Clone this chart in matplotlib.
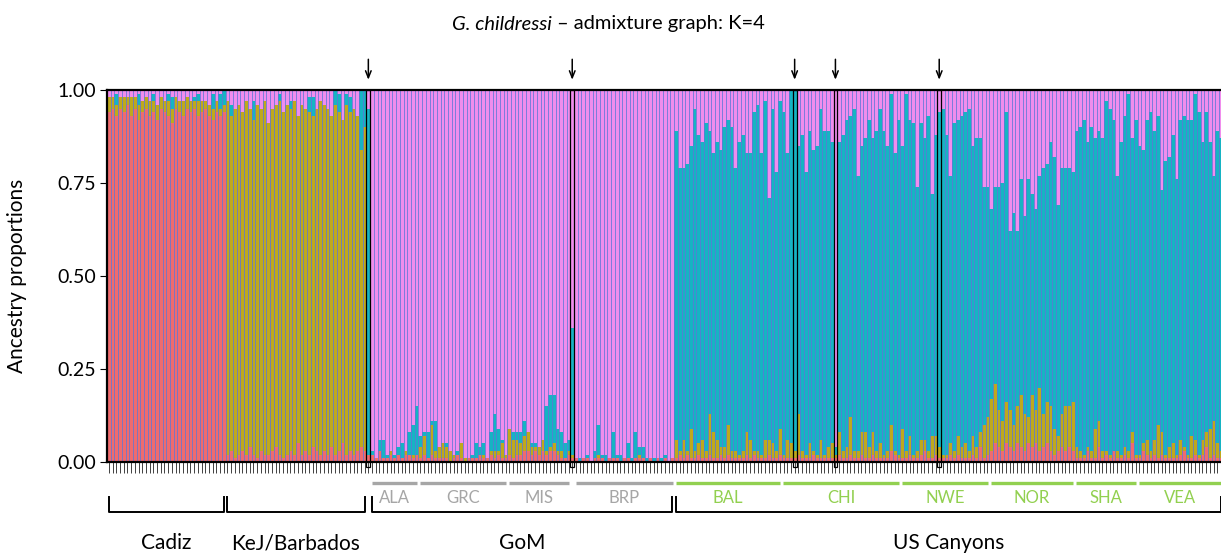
import numpy as np
import matplotlib.pyplot as plt
from matplotlib.patches import Rectangle
from matplotlib.transforms import blended_transform_factory

# ancestry proportions per individual, cluster order: red, olive, teal (pink fills to 1.00)
cadiz_red = [0.94, 0.95, 0.93, 0.95, 0.94, 0.96, 0.93, 0.95, 0.92, 0.94, 0.95, 0.93, 0.94, 0.92, 0.95, 0.94,
             0.93, 0.91, 0.95, 0.94, 0.93, 0.95, 0.94, 0.95, 0.93, 0.94, 0.95, 0.93, 0.92, 0.94, 0.93, 0.94]
cadiz_olive = [0.04, 0.03, 0.03, 0.03, 0.04, 0.02, 0.05, 0.03, 0.04, 0.03, 0.03, 0.04, 0.03, 0.04, 0.03, 0.03,
               0.04, 0.04, 0.03, 0.03, 0.04, 0.03, 0.03, 0.02, 0.04, 0.03, 0.02, 0.03, 0.03, 0.03, 0.02, 0.02]
cadiz_teal = [0.00, 0.00, 0.03, 0.00, 0.00, 0.00, 0.00, 0.00, 0.03, 0.00, 0.00, 0.00, 0.02, 0.00, 0.00, 0.00,
              0.02, 0.03, 0.00, 0.00, 0.00, 0.00, 0.00, 0.01, 0.02, 0.00, 0.00, 0.00, 0.04, 0.00, 0.04, 0.04]

kej_red = [0.02, 0.03, 0.01, 0.02, 0.03, 0.02, 0.04, 0.02, 0.01, 0.03, 0.02, 0.02, 0.03, 0.04, 0.02, 0.01,
           0.02, 0.03, 0.02, 0.05, 0.02, 0.03, 0.02, 0.04, 0.03, 0.02, 0.03, 0.02, 0.04, 0.02, 0.03, 0.05,
           0.02, 0.03, 0.02, 0.03, 0.04, 0.03, 0.02]
kej_olive = [0.95, 0.90, 0.94, 0.94, 0.91, 0.95, 0.91, 0.90, 0.95, 0.92, 0.95, 0.89, 0.92, 0.92, 0.95, 0.93,
             0.94, 0.92, 0.95, 0.88, 0.94, 0.92, 0.92, 0.89, 0.92, 0.95, 0.93, 0.93, 0.89, 0.94, 0.91, 0.87,
             0.94, 0.91, 0.93, 0.90, 0.80, 0.87, 0.00]
kej_teal = [0.00, 0.03, 0.00, 0.00, 0.00, 0.00, 0.00, 0.05, 0.00, 0.00, 0.00, 0.00, 0.00, 0.00, 0.02, 0.00,
            0.00, 0.02, 0.00, 0.00, 0.00, 0.00, 0.04, 0.05, 0.00, 0.00, 0.00, 0.00, 0.00, 0.04, 0.05, 0.00,
            0.03, 0.04, 0.00, 0.00, 0.16, 0.10, 0.93]

gom_red = [0.02, 0.01, 0.03, 0.01, 0.01, 0.02, 0.01, 0.02, 0.01, 0.02, 0.02, 0.01, 0.02, 0.01, 0.02, 0.01,
           0.02, 0.01, 0.01, 0.01, 0.01, 0.00, 0.01, 0.02, 0.01, 0.00, 0.01, 0.01, 0.01, 0.02, 0.01, 0.01,
           0.02, 0.01, 0.02, 0.01, 0.01, 0.02, 0.01, 0.02, 0.02, 0.03, 0.03, 0.02, 0.03, 0.02, 0.03, 0.02,
           0.03, 0.03, 0.02, 0.01, 0.01, 0.02, 0.01, 0.01, 0.00, 0.01, 0.01, 0.00, 0.01, 0.01, 0.01, 0.00,
           0.01, 0.01, 0.01, 0.00, 0.01, 0.01, 0.00, 0.01, 0.01, 0.01, 0.00, 0.01, 0.00, 0.01, 0.00, 0.01,
           0.00, 0.01]
gom_olive = [0.00, 0.00, 0.00, 0.00, 0.00, 0.01, 0.00, 0.00, 0.00, 0.01, 0.00, 0.01, 0.00, 0.03, 0.05, 0.00,
             0.08, 0.02, 0.03, 0.04, 0.03, 0.03, 0.01, 0.00, 0.04, 0.01, 0.00, 0.00, 0.00, 0.00, 0.01, 0.00,
             0.01, 0.02, 0.01, 0.04, 0.01, 0.07, 0.05, 0.04, 0.03, 0.04, 0.05, 0.02, 0.01, 0.02, 0.03, 0.01,
             0.01, 0.02, 0.01, 0.02, 0.00, 0.01, 0.01, 0.00, 0.00, 0.00, 0.00, 0.00, 0.00, 0.01, 0.00, 0.00,
             0.00, 0.00, 0.00, 0.00, 0.00, 0.00, 0.00, 0.00, 0.01, 0.00, 0.00, 0.00, 0.00, 0.00, 0.00, 0.00,
             0.00, 0.00]
gom_teal = [0.01, 0.00, 0.03, 0.05, 0.01, 0.00, 0.01, 0.02, 0.04, 0.00, 0.06, 0.08, 0.13, 0.03, 0.01, 0.07,
            0.01, 0.08, 0.00, 0.00, 0.01, 0.00, 0.00, 0.01, 0.00, 0.00, 0.00, 0.01, 0.04, 0.02, 0.03, 0.00,
            0.05, 0.10, 0.06, 0.01, 0.00, 0.00, 0.02, 0.02, 0.03, 0.04, 0.00, 0.01, 0.01, 0.00, 0.00, 0.12,
            0.14, 0.13, 0.06, 0.05, 0.04, 0.03, 0.34, 0.00, 0.01, 0.00, 0.01, 0.00, 0.02, 0.08, 0.01, 0.02,
            0.00, 0.07, 0.01, 0.02, 0.00, 0.04, 0.01, 0.07, 0.02, 0.03, 0.01, 0.00, 0.01, 0.00, 0.01, 0.01,
            0.00, 0.00]

us_red = [0.01, 0.02, 0.01, 0.02, 0.01, 0.01, 0.02, 0.01,
          0.01, 0.02, 0.01, 0.01, 0.02, 0.01, 0.02, 0.01, 0.01, 0.01,
          0.01, 0.02, 0.01, 0.02, 0.01, 0.01, 0.01, 0.02, 0.01, 0.01,
          0.02, 0.01, 0.01, 0.01, 0.01, 0.02, 0.01, 0.01, 0.01, 0.02,
          0.01, 0.01, 0.01, 0.01, 0.01, 0.01, 0.02, 0.01, 0.01, 0.02,
          0.01, 0.01, 0.02, 0.01, 0.01, 0.02, 0.01, 0.01, 0.01, 0.01,
          0.03, 0.02, 0.01, 0.01, 0.01, 0.02, 0.01, 0.01, 0.02, 0.03,
          0.01, 0.01, 0.02, 0.01, 0.01, 0.01, 0.02, 0.01, 0.02, 0.01,
          0.01, 0.01, 0.02, 0.01, 0.04, 0.01, 0.02, 0.03, 0.05, 0.04,
          0.03, 0.05, 0.04, 0.03, 0.05, 0.04, 0.03, 0.05, 0.04, 0.05,
          0.03, 0.04, 0.05, 0.03, 0.02, 0.03, 0.04, 0.03, 0.04, 0.03,
          0.01, 0.01, 0.01, 0.03, 0.01, 0.01, 0.04, 0.01, 0.02, 0.01,
          0.03, 0.01, 0.01, 0.02, 0.01, 0.05, 0.01, 0.01, 0.03, 0.02,
          0.01, 0.02, 0.01, 0.02, 0.01, 0.01, 0.01, 0.01, 0.02, 0.03,
          0.01, 0.01, 0.02, 0.01, 0.02, 0.04, 0.01, 0.02, 0.01, 0.01]
us_olive = [0.05, 0.01, 0.05, 0.01, 0.08, 0.02, 0.03, 0.05,
            0.02, 0.11, 0.07, 0.05, 0.02, 0.03, 0.08, 0.02, 0.02, 0.01,
            0.02, 0.06, 0.05, 0.01, 0.02, 0.01, 0.05, 0.04, 0.04, 0.02,
            0.07, 0.01, 0.05, 0.04, 0.02, 0.11, 0.02, 0.01, 0.04, 0.01,
            0.01, 0.05, 0.01, 0.03, 0.04, 0.01, 0.06, 0.02, 0.03, 0.10,
            0.02, 0.02, 0.06, 0.07, 0.03, 0.06, 0.02, 0.04, 0.01, 0.02,
            0.07, 0.01, 0.01, 0.08, 0.02, 0.05, 0.01, 0.02, 0.04, 0.03,
            0.02, 0.06, 0.05, 0.03, 0.01, 0.01, 0.03, 0.02, 0.05, 0.03,
            0.04, 0.02, 0.05, 0.03, 0.04, 0.09, 0.10, 0.14, 0.16, 0.10,
            0.08, 0.11, 0.10, 0.07, 0.10, 0.14, 0.10, 0.07, 0.14, 0.09,
            0.17, 0.09, 0.11, 0.12, 0.07, 0.04, 0.09, 0.12, 0.11, 0.13,
            0.03, 0.02, 0.01, 0.01, 0.02, 0.08, 0.07, 0.02, 0.01, 0.01,
            0.00, 0.02, 0.01, 0.02, 0.02, 0.03, 0.01, 0.01, 0.02, 0.04,
            0.02, 0.04, 0.09, 0.06, 0.01, 0.03, 0.04, 0.01, 0.04, 0.01,
            0.01, 0.06, 0.04, 0.01, 0.04, 0.04, 0.08, 0.09, 0.04, 0.02]
us_teal = [0.83, 0.76, 0.73, 0.77, 0.76, 0.92, 0.83, 0.80,
           0.88, 0.76, 0.75, 0.80, 0.80, 0.86, 0.82, 0.87, 0.76, 0.84,
           0.85, 0.75, 0.77, 0.91, 0.93, 0.81, 0.91, 0.65, 0.90, 0.75,
           0.88, 0.92, 0.77, 0.95, 0.97, 0.72, 0.85, 0.76, 0.84, 0.81,
           0.83, 0.89, 0.87, 0.85, 0.81, 0.02, 0.78, 0.85, 0.88, 0.81,
           0.92, 0.74, 0.77, 0.79, 0.88, 0.79, 0.86, 0.90, 0.87, 0.82,
           0.89, 0.80, 0.90, 0.76, 0.96, 0.85, 0.89, 0.71, 0.85, 0.81,
           0.90, 0.65, 0.81, 0.90, 0.93, 0.86, 0.72, 0.88, 0.85, 0.89,
           0.89, 0.92, 0.78, 0.83, 0.79, 0.64, 0.62, 0.51, 0.53, 0.60,
           0.64, 0.78, 0.48, 0.57, 0.47, 0.58, 0.53, 0.64, 0.54, 0.54,
           0.57, 0.66, 0.64, 0.71, 0.73, 0.62, 0.66, 0.64, 0.64, 0.62,
           0.85, 0.87, 0.90, 0.82, 0.87, 0.78, 0.78, 0.84, 0.94, 0.93,
           0.89, 0.74, 0.84, 0.89, 0.96, 0.79, 0.90, 0.83, 0.79, 0.86,
           0.91, 0.83, 0.83, 0.65, 0.79, 0.78, 0.83, 0.74, 0.86, 0.89,
           0.90, 0.85, 0.93, 0.92, 0.80, 0.86, 0.77, 0.66, 0.84, 0.84]

cluster_colors = ["#ef6b6e", "#bfa91c", "#16b4c3", "#f08ded"]
separator_color = "#5d77d6"

# regions, sampling sites and flagged individuals (sample index)
regions = ["Cadiz", "KeJ/Barbados", "GoM", "US Canyons"]
region_spans = [(0, 32), (32, 70), (71, 153), (153, 301)]
sites = ["ALA", "GRC", "MIS", "BRP", "BAL", "CHI", "NWE", "NOR", "SHA", "VEA"]
site_spans = [(71, 84), (84, 108), (108, 125), (126, 153), (153, 182),
              (182, 214), (214, 238), (238, 261), (261, 278), (278, 301)]
site_colors = ["#a6a6a6"] * 4 + ["#92d050"] * 6
flagged = [70, 125, 185, 196, 224]

red = np.array(cadiz_red + kej_red + gom_red + us_red)
olive = np.array(cadiz_olive + kej_olive + gom_olive + us_olive)
teal = np.array(cadiz_teal + kej_teal + gom_teal + us_teal)
pink = 1.0 - red - olive - teal
n = len(red)
x = np.arange(n)

plt.rcParams["font.family"] = ["Lato", "DejaVu Sans"]

fig = plt.figure(figsize=(12.21, 5.58), dpi=100)
ax = fig.add_axes([107 / 1221, 96 / 558, n * 3.707 / 1221, 372 / 558])

bottom = np.zeros(n)
for values, color in zip([red, olive, teal, pink], cluster_colors):
    ax.bar(x, values, bottom=bottom, width=1.0, align="edge", color=color, linewidth=0)
    bottom += values
ax.vlines(np.arange(1, n), 0, 1, color=separator_color, linewidth=0.55)

ax.set_xlim(0, n)
ax.set_ylim(0, 1)
for side in ["top", "left", "bottom"]:
    ax.spines[side].set_linewidth(1.6)
ax.spines["right"].set_visible(False)

ax.set_xticks(x + 0.5)
ax.set_xticklabels([])
ax.tick_params(axis="x", length=8, width=0.6, color="#222222", pad=1)
ax.set_yticks([0, 0.25, 0.5, 0.75, 1.0])
ax.set_yticklabels(["0.00", "0.25", "0.50", "0.75", "1.00"], fontsize=14)
ax.tick_params(axis="y", length=5, width=0.8, pad=3)
ax.set_ylabel("Ancestry proportions", fontsize=15)
ax.yaxis.set_label_coords(-80 / (n * 3.707), 0.5)

trans = blended_transform_factory(ax.transData, ax.transAxes)

# flagged individuals: outlined bars with arrows above
for i in flagged:
    ax.add_patch(Rectangle((i, -0.013), 1, 1.013, transform=trans, fill=False,
                           edgecolor="black", linewidth=0.9, clip_on=False, zorder=5))
    ax.annotate("", xy=(i + 0.5, 1.02), xytext=(i + 0.5, 1.09), xycoords=trans, textcoords=trans,
                arrowprops=dict(arrowstyle="->,head_length=0.5,head_width=0.2", color="black", lw=1.1))

# sampling site bars and labels
for name, (s0, s1), color in zip(sites, site_spans, site_colors):
    ax.plot([s0 + 0.4, s1 - 0.4], [-0.056, -0.056], transform=trans, color=color,
            linewidth=2.4, solid_capstyle="butt", clip_on=False)
    ax.text((s0 + s1) / 2, -0.097, name, transform=trans, color=color, fontsize=12,
            ha="center", va="center")

# region brackets and labels
for name, (s0, s1) in zip(regions, region_spans):
    ax.plot([s0 + 0.5, s0 + 0.5, s1 - 0.5, s1 - 0.5], [-0.094, -0.134, -0.134, -0.094],
            transform=trans, color="black", linewidth=1.4, clip_on=False)
    ax.text((s0 + s1) / 2, -0.218, name, transform=trans, fontsize=15, ha="center", va="center")

title = fig.text(452 / 1221, 1 - 24 / 558, "G. childressi", fontsize=14.5, style="italic",
                 ha="left", va="center")
ax.annotate(" \u2013 admixture graph: K=4", xy=(1, 0.5), xycoords=title, fontsize=14.5,
            ha="left", va="center")

fig.savefig("out.png", dpi=100)
